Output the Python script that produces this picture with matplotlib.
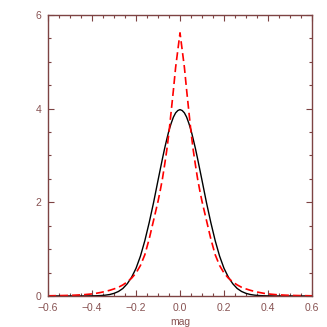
import numpy as np
import matplotlib
matplotlib.use('Agg')
import matplotlib.pyplot as plt
from matplotlib.ticker import MultipleLocator

# values (symmetric about 0)
x_half = [0.0, 0.01, 0.02, 0.03, 0.04, 0.05, 0.06, 0.07, 0.08, 0.09, 0.10,
          0.12, 0.14, 0.16, 0.18, 0.20, 0.22, 0.24, 0.26, 0.28, 0.30,
          0.32, 0.34, 0.36, 0.38, 0.40, 0.44, 0.48, 0.52, 0.56, 0.60]
black_half = [3.98, 3.96, 3.91, 3.82, 3.69, 3.54, 3.35, 3.15, 2.93, 2.70, 2.47,
              2.00, 1.57, 1.18, 0.85, 0.59, 0.40, 0.26, 0.159, 0.095, 0.055,
              0.030, 0.016, 0.008, 0.004, 0.002, 0.0, 0.0, 0.0, 0.0, 0.0]
red_half = [5.62, 5.25, 4.88, 4.40, 3.95, 3.50, 3.12, 2.80, 2.50, 2.25, 2.02,
            1.62, 1.22, 0.88, 0.65, 0.49, 0.38, 0.30, 0.235, 0.185, 0.15,
            0.12, 0.095, 0.075, 0.057, 0.043, 0.026, 0.016, 0.010, 0.006, 0.003]

x = np.concatenate([-np.array(x_half[:0:-1]), np.array(x_half)])
y_black = np.concatenate([np.array(black_half[:0:-1]), np.array(black_half)])
y_red = np.concatenate([np.array(red_half[:0:-1]), np.array(red_half)])

axcol = '#7d4343'
txtcol = '#875252'
plt.rcParams['font.family'] = ['Liberation Sans', 'DejaVu Sans']


def fmt(v, pos):
    if abs(v) < 1e-9:
        return '0.0'
    return ('%.1f' % v).replace('-', '\u2212')


fig = plt.figure(figsize=(3.27, 3.27), dpi=100)
ax = fig.add_axes([0.147, 0.095, 0.807, 0.859])

ax.plot(x, y_black, color='black', lw=1.0)
ax.plot(x, y_red, color='red', lw=1.2, dashes=(4.8, 2.4))

ax.set_xlim(-0.6, 0.6)
ax.set_ylim(0, 6)
ax.xaxis.set_major_locator(MultipleLocator(0.2))
ax.xaxis.set_minor_locator(MultipleLocator(0.05))
ax.yaxis.set_major_locator(MultipleLocator(2))
ax.yaxis.set_minor_locator(MultipleLocator(0.5))
ax.xaxis.set_major_formatter(plt.FuncFormatter(fmt))

for s in ax.spines.values():
    s.set_color(axcol)
    s.set_linewidth(1.0)
ax.tick_params(which='both', direction='in', top=True, right=True, color=axcol,
               labelcolor=txtcol, labelsize=7.5, width=0.8)
ax.tick_params(which='major', length=4.3, pad=5)
ax.tick_params(which='minor', length=2.2)
ax.set_xlabel('mag', color=txtcol, fontsize=7.5, labelpad=3)

fig.savefig('out.png', dpi=100)
